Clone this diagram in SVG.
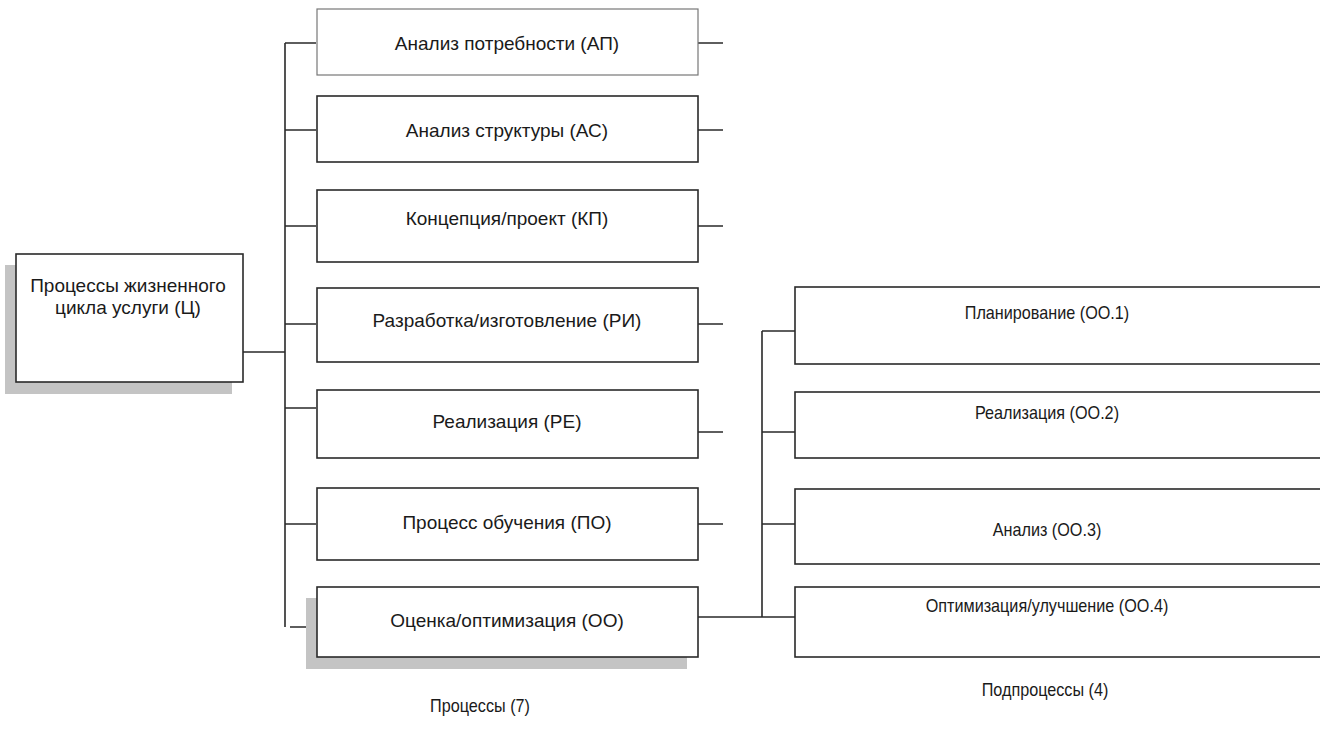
<svg xmlns="http://www.w3.org/2000/svg" width="1320" height="741" viewBox="0 0 1320 741">
<style>
.box{fill:#fff;stroke:#2a2a2a;stroke-width:1.6}
.shadow{fill:#c4c4c4}
.t{font-family:"Liberation Sans",Arial,sans-serif;font-size:19px;fill:#1a1a1a;text-anchor:middle}
.n{font-family:"Liberation Sans",Arial,sans-serif;font-size:18px;fill:#1a1a1a;text-anchor:middle}
.c{stroke:#2a2a2a;stroke-width:1.6;fill:none}
</style>
<rect width="1320" height="741" fill="#fff"/>
<g id="connectors">
<path class="c" d="M243 352H285M285 43V627M285 43H316M285 130H316M285 226H316M285 324H316M285 408H316M285 524H316M290 627H316"/>
<path class="c" d="M698 43H723M698 130H723M698 226H723M698 324H723M698 432H723M698 524H723"/>
<path class="c" d="M698 617H795M762 331V617M762 331H795M762 432H795M762 524H795"/>
</g>
<g id="node-c">
<rect class="shadow" x="5" y="265" width="227" height="129"/>
<rect class="box" x="16" y="254" width="227" height="128"/>
<text class="t" x="128" y="292">Процессы жизненного</text>
<text class="t" x="128" y="314">цикла услуги (Ц)</text>
</g>
<g id="node-ap">
<rect class="box" x="317" y="9" width="381" height="66" style="stroke:#777;stroke-width:1.2"/>
<text class="t" x="507" y="50">Анализ потребности (АП)</text>
</g>
<g id="node-as">
<rect class="box" x="317" y="96" width="381" height="66"/>
<text class="t" x="507" y="137">Анализ структуры (АС)</text>
</g>
<g id="node-kp">
<rect class="box" x="317" y="190" width="381" height="72"/>
<text class="t" x="507" y="225">Концепция/проект (КП)</text>
</g>
<g id="node-ri">
<rect class="box" x="317" y="288" width="381" height="74"/>
<text class="t" x="507" y="327">Разработка/изготовление (РИ)</text>
</g>
<g id="node-re">
<rect class="box" x="317" y="390" width="381" height="68"/>
<text class="t" x="507" y="428">Реализация (РЕ)</text>
</g>
<g id="node-po">
<rect class="box" x="317" y="488" width="381" height="72"/>
<text class="t" x="507" y="529">Процесс обучения (ПО)</text>
</g>
<g id="node-oo">
<rect class="shadow" x="306" y="598" width="381" height="71"/>
<rect class="box" x="317" y="587" width="381" height="70"/>
<text class="t" x="507" y="627">Оценка/оптимизация (ОО)</text>
</g>
<g id="node-oo1">
<rect class="box" x="795" y="287" width="530" height="77"/>
<text class="n" transform="translate(1047 319) scale(0.9 1)">Планирование (ОО.1)</text>
</g>
<g id="node-oo2">
<rect class="box" x="795" y="392" width="530" height="66"/>
<text class="n" transform="translate(1047 419) scale(0.9 1)">Реализация (ОО.2)</text>
</g>
<g id="node-oo3">
<rect class="box" x="795" y="489" width="530" height="75"/>
<text class="n" transform="translate(1047 536) scale(0.9 1)">Анализ (ОО.3)</text>
</g>
<g id="node-oo4">
<rect class="box" x="795" y="587" width="530" height="70"/>
<text class="n" transform="translate(1047 612) scale(0.9 1)">Оптимизация/улучшение (ОО.4)</text>
</g>
<text class="n" transform="translate(480 712) scale(0.9 1)">Процессы (7)</text>
<text class="n" transform="translate(1045 696) scale(0.9 1)">Подпроцессы (4)</text>
</svg>
